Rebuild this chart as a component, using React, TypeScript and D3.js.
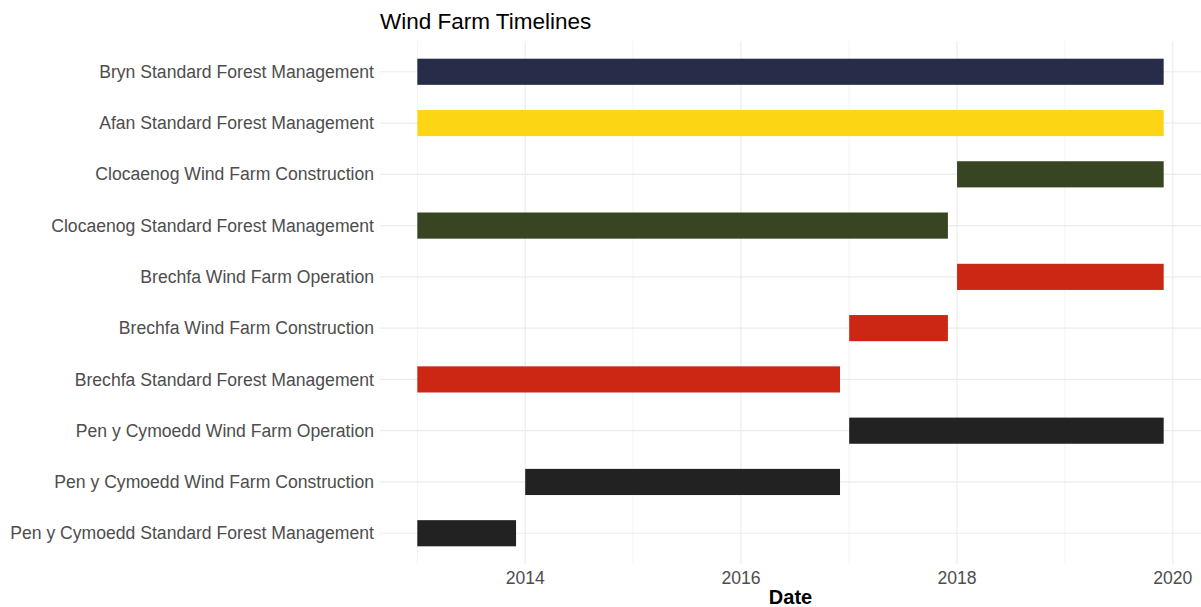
import React from "react"
import * as d3 from "d3"

// activities, bottom to top as drawn
const activities = [
	"Pen y Cymoedd Standard Forest Management",
	"Pen y Cymoedd Wind Farm Construction",
	"Pen y Cymoedd Wind Farm Operation",
	"Brechfa Standard Forest Management",
	"Brechfa Wind Farm Construction",
	"Brechfa Wind Farm Operation",
	"Clocaenog Standard Forest Management",
	"Clocaenog Wind Farm Construction",
	"Afan Standard Forest Management",
	"Bryn Standard Forest Management",
];
const startDates = [
	"2013-01-01", "2014-01-01", "2017-01-01",
	"2013-01-01", "2017-01-01", "2018-01-01",
	"2013-01-01", "2018-01-01",
	"2013-01-01", "2013-01-01",
];
const endDates = [
	"2013-12-01", "2016-12-01", "2019-12-01",
	"2016-12-01", "2017-12-01", "2019-12-01",
	"2017-12-01", "2019-12-01",
	"2019-12-01", "2019-12-01",
];
const farms = [
	"Pen y Cymoedd", "Pen y Cymoedd", "Pen y Cymoedd",
	"Brechfa", "Brechfa", "Brechfa",
	"Clocaenog", "Clocaenog",
	"Afan", "Bryn",
];
const farmNames = ["Pen y Cymoedd", "Brechfa", "Clocaenog", "Afan", "Bryn"];
const farmColours = ["#222222", "#cc2614", "#374522", "#fcd615", "#272d48"];
const tickYears = [2014, 2016, 2018, 2020];

const WIDTH = 1201, HEIGHT = 607;
const margin = { left: 380, top: 41, right: 0, bottom: 43 };
const FONT = "'Liberation Sans', Arial, sans-serif";

export default function App() {
	const parse = d3.timeParse("%Y-%m-%d");
	const rows = activities.map((a, i) => ({
		name: a,
		start: parse(startDates[i]) as Date,
		end: parse(endDates[i]) as Date,
		farm: farms[i],
	}));

	const minD = d3.min(rows, d => d.start) as Date;
	const maxD = d3.max(rows, d => d.end) as Date;
	const span = +maxD - +minD;
	const x = d3.scaleTime()
		.domain([new Date(+minD - span * 0.05), new Date(+maxD + span * 0.05)])
		.range([margin.left, WIDTH - margin.right]);

	const n = activities.length;
	const panelTop = margin.top, panelBottom = HEIGHT - margin.bottom;
	// discrete expansion of 0.6 units each side
	const y = d3.scaleLinear()
		.domain([0.4, n + 0.6])
		.range([panelBottom, panelTop]);
	const step = Math.abs(y(2) - y(1));
	const barH = step * 0.51;

	const colour = d3.scaleOrdinal<string, string>().domain(farmNames).range(farmColours);

	const majors = tickYears.map(yr => new Date(yr, 0, 1));
	const minors = d3.range(2013, 2021, 2).map(yr => new Date(yr, 0, 1));

	return (
		<svg width={WIDTH} height={HEIGHT} style={{ display: "block", position: "absolute", left: 0, top: 0 }}>
			<rect width={WIDTH} height={HEIGHT} fill="#fff" />
			<g className="grid">
				{minors.map((d, i) => (
					<line key={"mn" + i} x1={x(d)} x2={x(d)} y1={panelTop} y2={panelBottom} stroke="#f3f3f3" strokeWidth={1} />
				))}
				{majors.map((d, i) => (
					<line key={"mj" + i} x1={x(d)} x2={x(d)} y1={panelTop} y2={panelBottom} stroke="#ececec" strokeWidth={1.2} />
				))}
				{rows.map((r, i) => (
					<line key={"h" + i} x1={margin.left} x2={WIDTH - margin.right} y1={y(i + 1)} y2={y(i + 1)} stroke="#ececec" strokeWidth={1.2} />
				))}
			</g>
			<g className="bars">
				{rows.map((r, i) => (
					<rect key={r.name} x={x(r.start)} width={x(r.end) - x(r.start)}
						y={y(i + 1) - barH / 2} height={barH} fill={colour(r.farm)} />
				))}
			</g>
			<g className="y labels" fontFamily={FONT} fontSize={17.6} fill="#4d4d4d" textAnchor="end">
				{rows.map((r, i) => (
					<text key={r.name} x={margin.left - 6} y={y(i + 1)} dy="0.35em">{r.name}</text>
				))}
			</g>
			<g className="x labels" fontFamily={FONT} fontSize={17.6} fill="#4d4d4d" textAnchor="middle">
				{majors.map((d, i) => (
					<text key={i} x={x(d)} y={panelBottom + 20}>{tickYears[i]}</text>
				))}
			</g>
			<text x={(margin.left + WIDTH - margin.right) / 2} y={604} textAnchor="middle" fontFamily={FONT}
				fontSize={20} fontWeight="bold" fill="#000">Date</text>
			<text x={margin.left} y={29} fontFamily={FONT} fontSize={22.5} fill="#000">Wind Farm Timelines</text>
		</svg>
	)
}
